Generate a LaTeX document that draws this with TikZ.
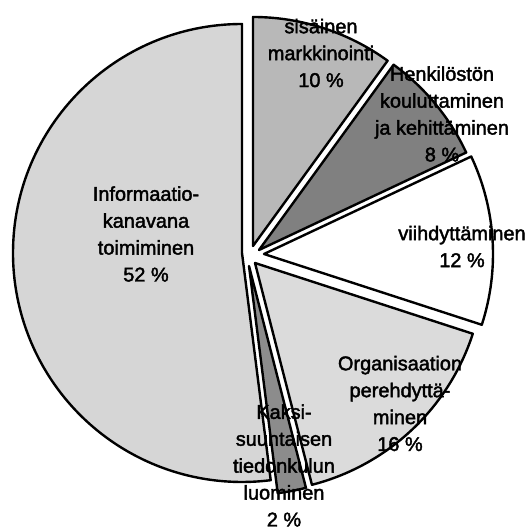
\documentclass[tikz,border=0pt]{standalone}
\usepackage{fontspec}
\newfontfamily\labelfont[FakeBold=2]{Liberation Sans}
\definecolor{infofill}{gray}{0.84}
\definecolor{sisfill}{gray}{0.72}
\definecolor{henkfill}{gray}{0.50}
\definecolor{viihfill}{gray}{1.0}
\definecolor{orgfill}{gray}{0.86}
\definecolor{kaksfill}{gray}{0.55}
\begin{document}
\begin{tikzpicture}[x=1bp,y=1bp,
  slice/.style={draw=black,line width=2.4bp,line join=round},
  lbl/.style={font=\labelfont\fontsize{20}{27}\selectfont,align=center,inner sep=0pt,text=black}]
\useasboundingbox (0,0) rectangle (530,532);
\def\R{229}
% apex of each exploded slice
\coordinate (cInfo) at (242,279);
\coordinate (cSis)  at (253,286);
\coordinate (cHenk) at (259,282);
\coordinate (cViih) at (264,278);
\coordinate (cOrg)  at (255,269);
\coordinate (cKaks) at (249,266);
% slices, clockwise from the top
\draw[slice,fill=infofill] (cInfo) -- ++(90:\R) arc[start angle=90,end angle=277.2,radius=\R] -- cycle;
\draw[slice,fill=sisfill]  (cSis) -- ++(54:\R) arc[start angle=54,end angle=90,radius=\R] -- cycle;
\draw[slice,fill=henkfill] (cHenk) -- ++(25.2:\R) arc[start angle=25.2,end angle=54,radius=\R] -- cycle;
\draw[slice,fill=viihfill] (cViih) -- ++(-18:\R) arc[start angle=-18,end angle=25.2,radius=\R] -- cycle;
\draw[slice,fill=orgfill]  (cOrg) -- ++(-75.6:\R) arc[start angle=-75.6,end angle=-18,radius=\R] -- cycle;
\draw[slice,fill=kaksfill] (cKaks) -- ++(-82.8:\R) arc[start angle=-82.8,end angle=-75.6,radius=\R] -- cycle;
% labels
\node[lbl] (lInfo) at (146,298) {Informaatio-\\kanavana\\toimiminen\\52 \%};
\node[lbl] (lSis)  at (321,479) {sisäinen\\markkinointi\\10 \%};
\node[lbl] (lHenk) at (442,418) {Henkilöstön\\kouluttaminen\\ja kehittäminen\\8 \%};
\node[lbl] (lViih) at (462,285.5) {viihdyttäminen\\12 \%};
\node[lbl] (lOrg)  at (400,128.5) {Organisaation\\perehdyttä-\\minen\\16 \%};
\node[lbl] (lKaks) at (284,66.5) {Kaksi-\\suuntaisen\\tiedonkulun\\luominen\\2 \%};
\end{tikzpicture}
\end{document}
